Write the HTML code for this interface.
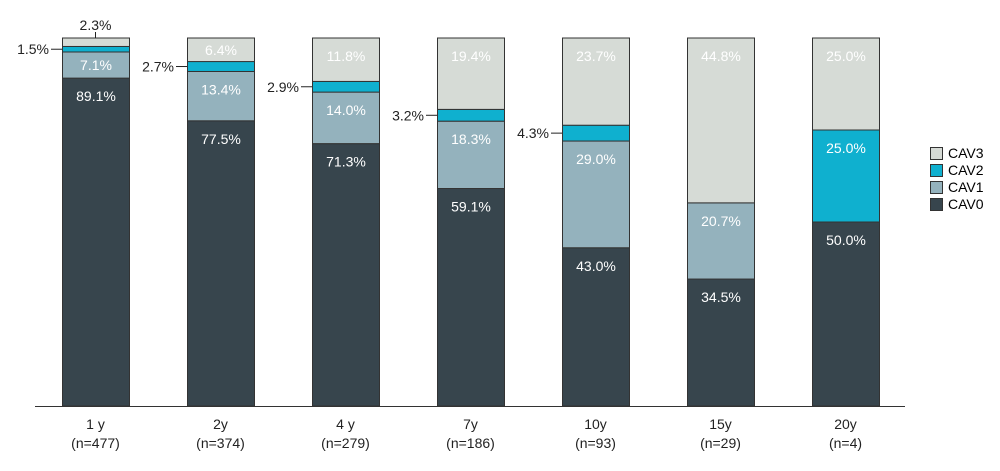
<!DOCTYPE html>
<html><head><meta charset="utf-8"><style>
body{margin:0;background:#fff}
svg text{font-family:"Liberation Sans Narrow","Liberation Sans",sans-serif;font-size:14px}
</style></head><body>
<svg width="1000" height="466" viewBox="0 0 1000 466" xmlns="http://www.w3.org/2000/svg">
<g id="bars"></g>
<line x1="35" y1="406.5" x2="905" y2="406.5" stroke="#333" stroke-width="1"/>
<g id="xl"></g>
<g font-size="13">
<g><rect x="930.5" y="147.5" width="12" height="12" fill="#d6dbd6" stroke="#333"/><text x="948" y="158">CAV3</text></g>
<g><rect x="930.5" y="164.5" width="12" height="12" fill="#0fb0cf" stroke="#333"/><text x="948" y="175">CAV2</text></g>
<g><rect x="930.5" y="181.5" width="12" height="12" fill="#94b2bd" stroke="#333"/><text x="948" y="192">CAV1</text></g>
<g><rect x="930.5" y="198.5" width="12" height="12" fill="#37454d" stroke="#333"/><text x="948" y="209">CAV0</text></g>
</g>
</svg>
<script>
const categories=["1 y","2y","4 y","7y","10y","15y","20y"];
const counts=["(n=477)","(n=374)","(n=279)","(n=186)","(n=93)","(n=29)","(n=4)"];
const cav0=[89.1,77.5,71.3,59.1,43.0,34.5,50.0];
const cav1=[7.1,13.4,14.0,18.3,29.0,20.7,0];
const cav2=[1.5,2.7,2.9,3.2,4.3,0,25.0];
const cav3=[2.3,6.4,11.8,19.4,23.7,44.8,25.0];
const NS="http://www.w3.org/2000/svg";
const yTop=38,yBase=406,bw=67;
const xPos=i=>62+i*125;
const yPos=v=>yBase-(v/100)*(yBase-yTop);
const series=[["cav0",cav0,"#37454d","#fff"],["cav1",cav1,"#94b2bd","#fff"],["cav2",cav2,"#0fb0cf","#fff"],["cav3",cav3,"#d6dbd6","#fff"]];
const gBars=document.getElementById('bars'),gXl=document.getElementById('xl');
function mk(t,a,p){const e=document.createElementNS(NS,t);for(const k in a)e.setAttribute(k,a[k]);p.appendChild(e);return e;}
categories.forEach((c,i)=>{
  let cum=0;
  series.forEach(([nm,arr,col,tc])=>{
    const v=arr[i]; if(!v)return;
    const y0=yPos(cum),y1=yPos(cum+v); cum+=v;
    const r=mk('rect',{x:xPos(i)+0.5,y:y1,width:bw,height:y0-y1,fill:col,stroke:'#333','stroke-width':1},gBars);
    
    
    const h=y0-y1,lab=v.toFixed(1)+'%';
    let t;
    if(h>=18){
      t=mk('text',{x:xPos(i)+bw/2+0.5,y:y1+Math.min(h/2,18)+5,'text-anchor':'middle',fill:tc},gBars);
    }else if(nm==='cav3'){
      t=mk('text',{x:xPos(i)+bw/2,y:yTop-8,'text-anchor':'middle',fill:'#222'},gBars);
      const l=mk('line',{x1:xPos(i)+bw/2,y1:yTop-6,x2:xPos(i)+bw/2,y2:y1,stroke:'#222'},gBars);
      
      
    }else{
      const cy=(y0+y1)/2;
      t=mk('text',{x:xPos(i)-13,y:cy+5,'text-anchor':'end',fill:'#222'},gBars);
      const l=mk('line',{x1:xPos(i)-11,y1:cy,x2:xPos(i),y2:cy,stroke:'#222'},gBars);
      
      
    }
    t.textContent=lab;
    
    
  });
  const a=mk('text',{x:xPos(i)+bw/2,y:429,'text-anchor':'middle',fill:'#222'},gXl);
  a.textContent=c;
  
  
  const b=mk('text',{x:xPos(i)+bw/2,y:448,'text-anchor':'middle',fill:'#222'},gXl);
  b.textContent=counts[i];
  
  
});
</script>
</body></html>
